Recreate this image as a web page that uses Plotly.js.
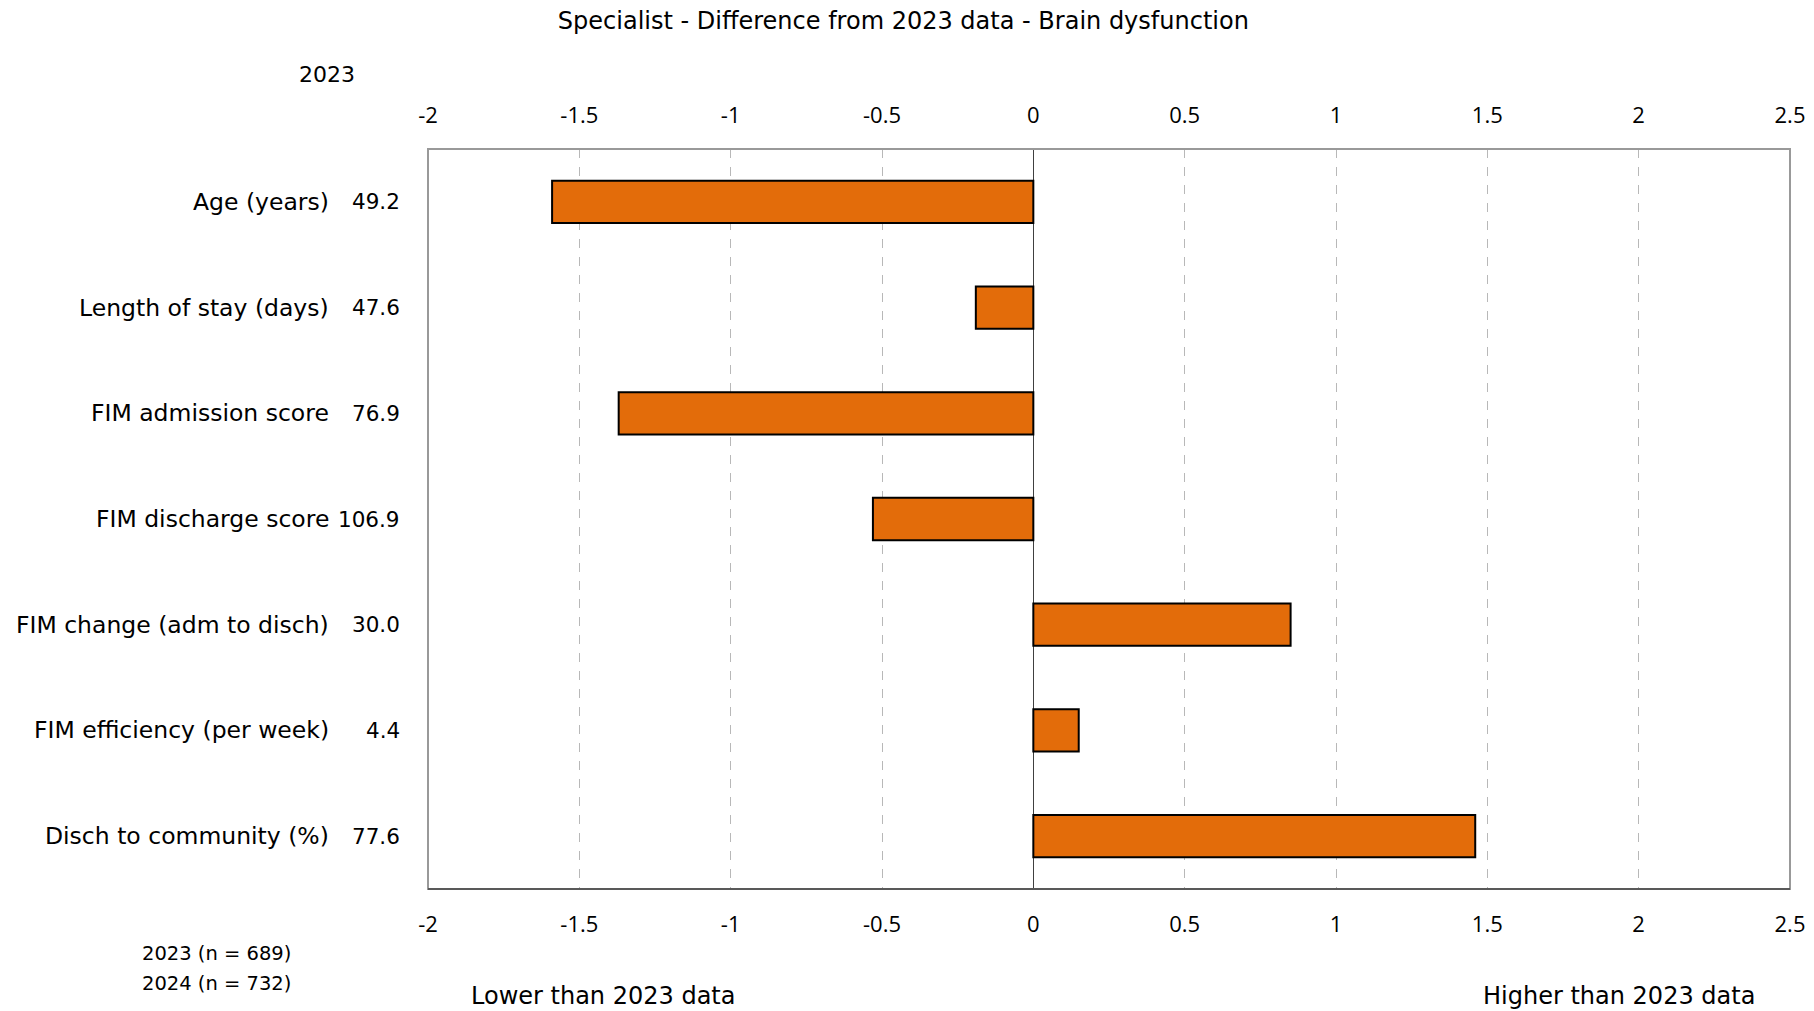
<!DOCTYPE html>
<html>
<head>
<meta charset="utf-8">
<script src="https://cdn.plot.ly/plotly-3.0.1.min.js"></script>
<style>html,body{margin:0;padding:0;background:#fff;}#chart{width:1814px;height:1011px;}</style>
</head>
<body>
<div id="chart"></div>
<script>
// ---- data ----
const categories = ["Age (years)", "Length of stay (days)", "FIM admission score", "FIM discharge score", "FIM change (adm to disch)", "FIM efficiency (per week)", "Disch to community (%)"];
const values2023 = ["49.2", "47.6", "76.9", "106.9", "30.0", "4.4", "77.6"];
const differences = [-1.59, -0.19, -1.37, -0.53, 0.85, 0.15, 1.46];
const tickValues = [-2, -1.5, -1, -0.5, 0, 0.5, 1, 1.5, 2, 2.5];
const tickLabels = ["-2", "-1.5", "-1", "-0.5", "0", "0.5", "1", "1.5", "2", "2.5"];
const titleText = "Specialist - Difference from 2023 data - Brain dysfunction";
const yearHeader = "2023";
const sampleNotes = ["2023 (n = 689)", "2024 (n = 732)"];
const lowerText = "Lower than 2023 data";
const higherText = "Higher than 2023 data";

// ---- layout geometry ----
const W = 1814, H = 1011;
const L = 428, R = 1790, T = 149, B = 889;
const PW = R - L, PH = B - T;
const px = x => (x - L) / PW;
const py = y => (B - y) / PH;
const FONT = "DejaVu Sans, sans-serif";
const TICKFONT = "Open Sans, sans-serif";
const FS = 22;

const bars = {
  type: "bar",
  orientation: "h",
  x: differences,
  y: categories,
  width: 0.4,
  marker: { color: "#E36C0A", line: { color: "#000000", width: 2 } },
  hoverinfo: "x+y",
  showlegend: false
};
const topAxisTrace = {
  type: "scatter",
  mode: "markers",
  x: differences,
  y: categories,
  xaxis: "x2",
  marker: { opacity: 0 },
  hoverinfo: "skip",
  showlegend: false
};

const annotations = [];
categories.forEach((c, i) => {
  annotations.push({ xref: "paper", yref: "y", x: px(331), y: c, text: c, showarrow: false, xanchor: "right", yanchor: "middle", font: { family: FONT, size: 23.5, color: "#000" } });
  annotations.push({ xref: "paper", yref: "y", x: px(402), y: c, text: values2023[i], showarrow: false, xanchor: "right", yanchor: "middle", font: { family: FONT, size: 21.5, color: "#000" } });
});
annotations.push({ xref: "paper", yref: "paper", x: px(327), y: py(75), text: yearHeader, showarrow: false, xanchor: "center", yanchor: "middle", font: { family: FONT, size: FS, color: "#000" } });
annotations.push({ xref: "paper", yref: "paper", x: px(140), y: py(953), text: sampleNotes[0], showarrow: false, xanchor: "left", yanchor: "middle", font: { family: FONT, size: 19.5, color: "#000" } });
annotations.push({ xref: "paper", yref: "paper", x: px(140), y: py(983), text: sampleNotes[1], showarrow: false, xanchor: "left", yanchor: "middle", font: { family: FONT, size: 19.5, color: "#000" } });
annotations.push({ xref: "paper", yref: "paper", x: px(469), y: py(996), text: lowerText, showarrow: false, xanchor: "left", yanchor: "middle", font: { family: FONT, size: 24, color: "#000" } });
annotations.push({ xref: "paper", yref: "paper", x: px(1481), y: py(996), text: higherText, showarrow: false, xanchor: "left", yanchor: "middle", font: { family: FONT, size: 24, color: "#000" } });

const axisCommon = {
  range: [-2, 2.5],
  tickmode: "array",
  tickvals: tickValues,
  ticktext: tickLabels,
  ticks: "outside",
  ticklen: 16,
  tickcolor: "rgba(0,0,0,0)",
  tickfont: { family: TICKFONT, size: FS, color: "#000" },
  fixedrange: true
};

const layout = {
  width: W, height: H,
  margin: { l: L, r: W - R, t: T, b: H - B, pad: 0 },
  paper_bgcolor: "#fff",
  plot_bgcolor: "#fff",
  title: { text: titleText, x: 0.498, xref: "container", xanchor: "center", y: 1 - 21 / H, yref: "container", yanchor: "middle", font: { family: FONT, size: 24, color: "#000" } },
  xaxis: Object.assign({}, axisCommon, {
    side: "bottom",
    showgrid: true, gridcolor: "#b8b8b8", gridwidth: 1, griddash: "dash",
    zeroline: true, zerolinecolor: "#404040", zerolinewidth: 1,
    showline: false
  }),
  xaxis2: Object.assign({}, axisCommon, {
    side: "top", overlaying: "x", anchor: "y",
    showgrid: false, zeroline: false, showline: false
  }),
  yaxis: {
    autorange: "reversed",
    showticklabels: false,
    ticks: "",
    showgrid: false,
    zeroline: false,
    showline: false,
    fixedrange: true
  },
  bargap: 0.6,
  shapes: [
    { type: "rect", xref: "paper", yref: "paper", x0: 0, x1: 1, y0: 0, y1: 1, line: { color: "#999999", width: 2 }, fillcolor: "rgba(0,0,0,0)", layer: "above" },
    { type: "line", xref: "paper", yref: "paper", x0: 0, x1: 1, y0: 0, y1: 0, line: { color: "#595959", width: 2 }, layer: "above" }
  ],
  annotations: annotations
};

Plotly.newPlot("chart", [bars, topAxisTrace], layout, { displayModeBar: false, staticPlot: true });
</script>
</body>
</html>
